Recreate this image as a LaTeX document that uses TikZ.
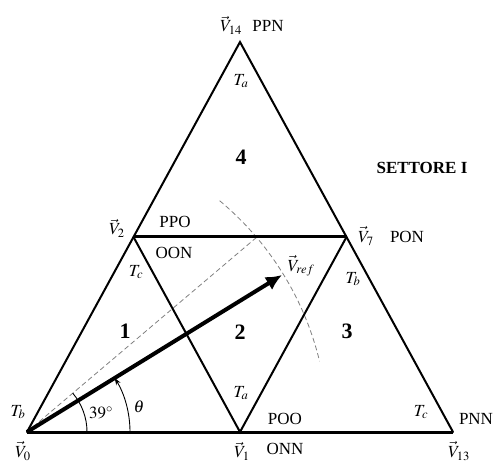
\documentclass[tikz,border=0pt]{standalone}
\usepackage{mathptmx}
\usepackage{fontspec}
\setmainfont{Liberation Serif}
\usetikzlibrary{arrows.meta}
\begin{document}
\begin{tikzpicture}[x=1pt,y=-1pt,
  lbl/.style={inner sep=0pt,font=\fontsize{17}{20}\selectfont},
  num/.style={inner sep=0pt,font=\fontsize{22}{26}\selectfont\bfseries},
  side/.style={line width=2pt,line cap=round,line join=miter},
  heavy/.style={line width=3pt},
  guide/.style={gray,line width=0.8pt,dash pattern=on 5pt off 3pt},
  thin/.style={line width=0.9pt}]
\useasboundingbox (0,0) rectangle (495,470);
\coordinate (V0) at (27,432);
\coordinate (V1) at (240,432);
\coordinate (V13) at (453,432);
\coordinate (V14) at (240,42);
\coordinate (V2) at (133.5,237);
\coordinate (V7) at (346.5,237);
\coordinate (R) at (282,275);
\coordinate (D) at (257,237);
% dashed guides
\draw[guide] (V0) -- (D);
\draw[guide] (V0) ++(-50.2:301) arc[start angle=-50.2, end angle=-13.6, radius=301];
% triangle
\draw[side] (V0) -- (V14) -- (V13);
\draw[heavy] (V0) -- (V13);
\draw[heavy] (V2) -- (V7);
\draw[side] (V2) -- (V1) -- (V7);
% angle arcs
\draw[thin] (V0) ++(60,0) arc[start angle=0, end angle=-40.3, radius=60];
\draw[thin,-{Stealth[length=7pt,width=5pt]}] (V0) ++(103,0) arc[start angle=0, end angle=-31.6, radius=103];
% reference vector
\draw[line width=4pt,-{Latex[length=16pt,width=15pt]}] (V0) -- (R);
% labels
\node[lbl,anchor=base] (l14) at (231,32) {$\vec{V}_{14}$};
\node[lbl,anchor=base] (ppn) at (268,32) {PPN};
\node[lbl] (ta1) at (241,81) {$T_a$};
\node[num] (n4) at (241,157) {4};
\node[inner sep=0pt,font=\fontsize{17}{20}\selectfont\bfseries] (set) at (422,168) {SETTORE I};
\node[lbl] (l2) at (117,228) {$\vec{V}_2$};
\node[lbl] (ppo) at (175,222) {PPO};
\node[lbl] (oon) at (174,253) {OON};
\node[lbl] (tc1) at (136,272) {$T_c$};
\node[lbl] (l7) at (366,236) {$\vec{V}_7$};
\node[lbl] (pon) at (407,237) {PON};
\node[lbl] (lref) at (301,266) {$\vec{V}_{ref}$};
\node[lbl] (tb1) at (353,279) {$T_b$};
\node[num] (n1) at (125,331) {1};
\node[num] (n2) at (240,332) {2};
\node[num] (n3) at (347,331) {3};
\node[lbl] (ta2) at (241,393) {$T_a$};
\node[lbl] (poo) at (285,419) {POO};
\node[lbl] (onn) at (285,449) {ONN};
\node[lbl] (tc2) at (421,412) {$T_c$};
\node[lbl] (pnn) at (476,419) {PNN};
\node[lbl] (l13) at (459,451) {$\vec{V}_{13}$};
\node[lbl] (l1) at (242,451) {$\vec{V}_1$};
\node[lbl] (l0) at (23,451) {$\vec{V}_0$};
\node[lbl] (tb2) at (18,412) {$T_b$};
\node[lbl] (deg) at (101,413) {$39^\circ$};
\node[lbl] (th) at (139,407) {$\theta$};
\end{tikzpicture}
\end{document}
